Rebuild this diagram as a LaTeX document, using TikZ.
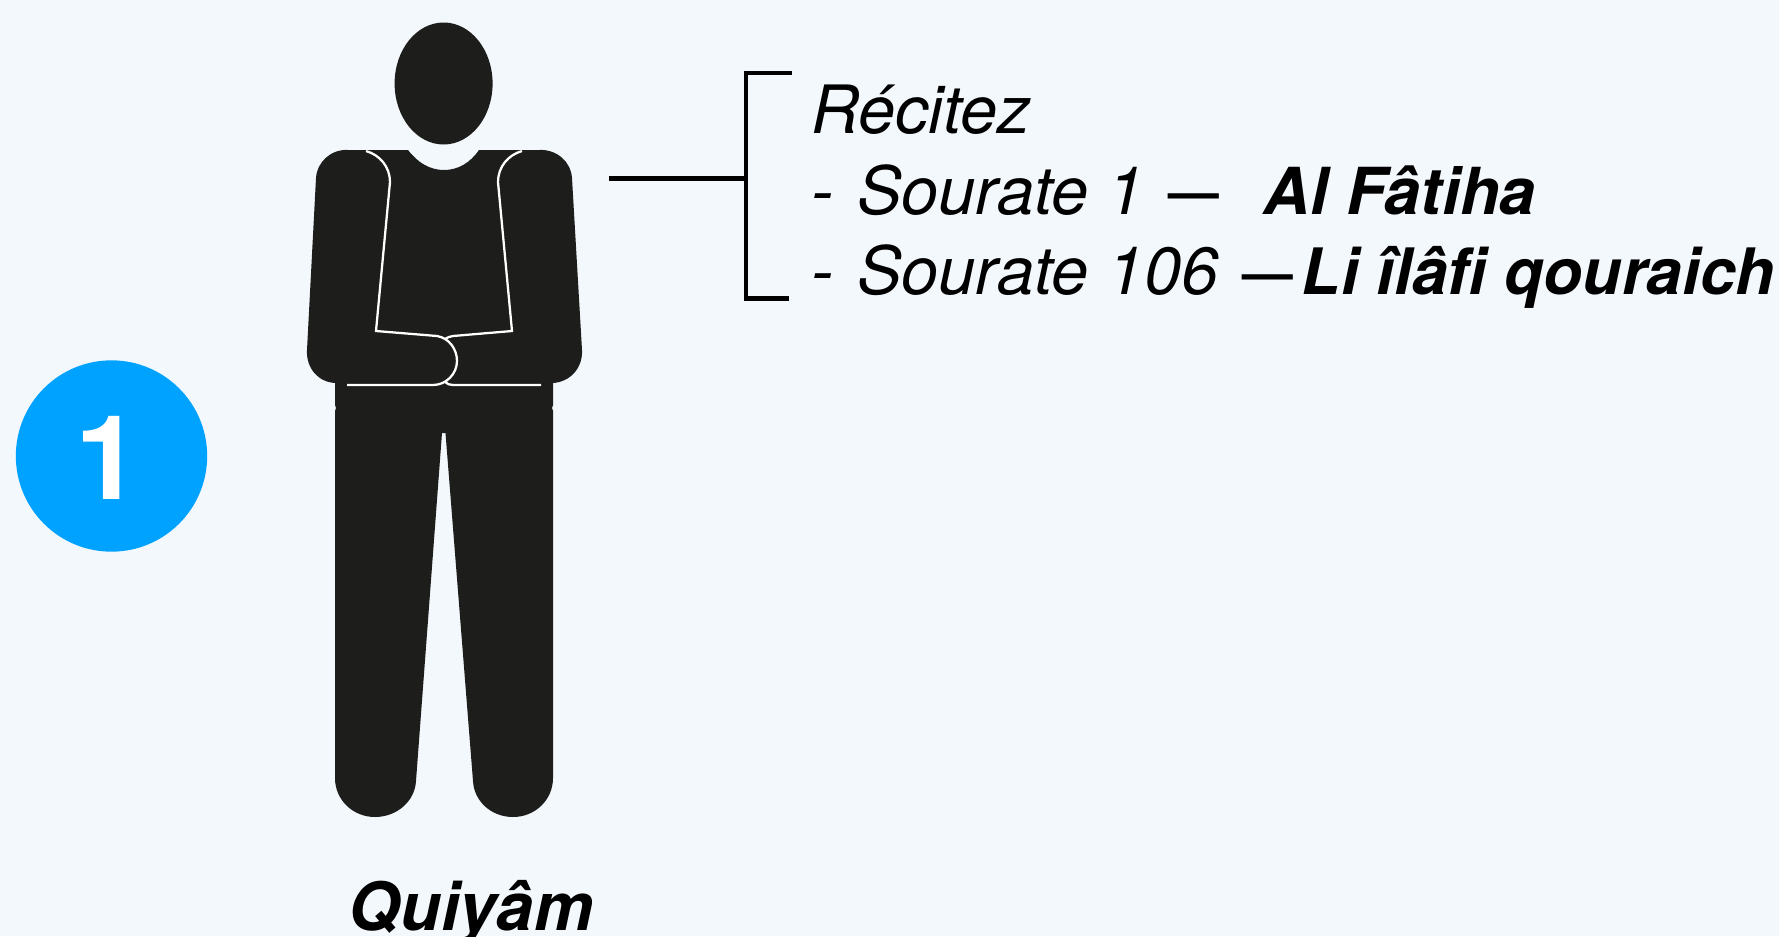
\documentclass[tikz,border=0pt]{standalone}
\usepackage{fontspec}
\setmainfont{TeX Gyre Heros}
\definecolor{bgc}{HTML}{F3F8FD}
\definecolor{body}{HTML}{1D1D1B}
\definecolor{badge}{HTML}{00A2FF}
\newcommand{\recitedash}{\raisebox{3.2pt}{\fontsize{38}{38}\selectfont\upshape\bfseries —}}
\newcommand{\recitebold}[1]{\fontsize{#1}{#1}\selectfont\bfseries}
\tikzset{
  px/.style={x=0.75pt,y=-0.75pt},
  seam/.style={draw=white,line width=1.7pt,line join=miter},
  bracketline/.style={draw=black,line width=3.4pt,line cap=butt,line join=miter},
  recite/.style={inner sep=0pt,anchor=base west,font=\fontsize{50}{50}\selectfont\itshape,text=black},
}
\begin{document}
\begin{tikzpicture}[px]
\useasboundingbox (0,0) rectangle (1779,936);
\fill[bgc] (0,0) rectangle (1779,936);
% badge
\node[circle,fill=badge,minimum size=143.5pt,inner sep=0pt] (badgeNode) at (111.5,456) {};
\node[inner sep=0pt,anchor=base,text=white,font=\fontsize{88}{88}\selectfont\bfseries] (badgeNum) at (108.5,499) {1};
% head
\fill[body] (443.6,83.5) ellipse [x radius=49,y radius=61];
% body
\fill[body]
  (348,150) -- (408,150)
  .. controls (418,163) and (430,170) .. (444,170)
  .. controls (458,170) and (470,163) .. (479,150)
  -- (539,150)
  .. controls (557,149) and (571,162) .. (572,178)
  -- (582,350)
  .. controls (583,368) and (570,382) .. (553,383)
  -- (553,405) -- (552,408) -- (553,411)
  -- (553,778)
  .. controls (553,800) and (535,817) .. (513,817)
  .. controls (491,817) and (474,801) .. (473,781)
  -- (445.5,433) -- (442,433)
  -- (416,781)
  .. controls (415,801) and (397,817) .. (375,817)
  .. controls (353,817) and (335,800) .. (335,778)
  -- (335,411) -- (336,408) -- (335,405)
  -- (335,383)
  .. controls (318,382) and (306,368) .. (307,350)
  -- (316,178)
  .. controls (317,162) and (331,149) .. (348,150)
  -- cycle;
% seams
\draw[seam] (366,151) .. controls (380,155) and (390,167) .. (390,182)
  -- (376,331) -- (437,336)
  .. controls (449,338) and (457,349) .. (457,361)
  .. controls (457,374) and (446,385) .. (433,385)
  -- (347,385);
\draw[seam] (522,151) .. controls (508,155) and (498,167) .. (498,182)
  -- (512,331) -- (453,336) .. controls (450,336.5) and (447,337.5) .. (445,339);
\draw[seam] (445,382) .. controls (447,384) and (450,385) .. (453,385) -- (541,385);
% bracket
\coordinate (stemStart) at (609,178.7);
\coordinate (stemEnd) at (746,178.7);
\coordinate (brTop) at (792,72.8);
\coordinate (brBot) at (788.5,298.5);
\draw[bracketline] (brTop) -- (746,72.8) -- (746,298.5) -- (brBot);
\draw[bracketline] (stemStart) -- (stemEnd);
% text
\node[recite] (t1) at (811,133.5) {Récitez};
\node[recite] (t2) at (811,214) {-\hspace{4pt} Sourate 1\hspace{18.6pt}\recitedash\hspace{32.8pt}\recitebold{48.6}Al Fâtiha};
\node[recite] (t3) at (811,294.5) {-\hspace{4pt} Sourate 106\hspace{18pt}\recitedash\hspace{6.8pt}\recitebold{48}Li îlâfi qouraich};
\node[inner sep=0pt,anchor=base,font=\fontsize{50}{50}\selectfont\bfseries\itshape] (title) at (471,930) {Quiyâm};
\end{tikzpicture}
\end{document}
